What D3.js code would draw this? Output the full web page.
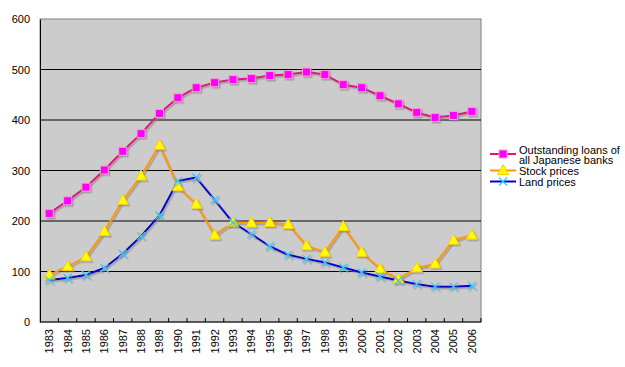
<!DOCTYPE html>
<html>
<head>
<meta charset="utf-8">
<script src="https://cdn.jsdelivr.net/npm/d3@7"></script>
<style>
body { margin: 0; background: #fff; }
text { font-family: "Liberation Sans", Arial, sans-serif; font-size: 11px; fill: #000; }
</style>
</head>
<body>
<svg id="chart" width="625" height="367"></svg>
<script>
var years = ['1983','1984','1985','1986','1987','1988','1989','1990','1991','1992','1993','1994',
	'1995','1996','1997','1998','1999','2000','2001','2002','2003','2004','2005','2006'];
var loans = [215,240,267,301,338,373,413,444,464,474,480,482,488,490,495,490,470,464,448,432,415,405,409,417];
var stocks = [93,110,129,179,241,289,350,268,233,172,197,196,197,193,151,138,189,138,105,85,107,115,162,172];
var land = [83,87,93,107,135,170,211,279,286,242,197,174,150,133,125,118,108,98,90,82,75,70,70,72];
var yTicks = [0,100,200,300,400,500,600];
var legendNames = [['Outstanding loans of','all Japanese banks'],['Stock prices'],['Land prices']];

var svg = d3.select('#chart');
var pLeft = 40, pRight = 481, pTop = 19, pBottom = 322;

var x = d3.scaleBand().domain(years).range([pLeft, pRight]);
var y = d3.scaleLinear().domain([0, 600]).range([pBottom, pTop]);

// shadow filter for lines and markers
var defs = svg.append('defs');
var f = defs.append('filter').attr('id', 'shadow').attr('x', '-20%').attr('y', '-20%').attr('width', '150%').attr('height', '150%');
f.append('feDropShadow').attr('dx', 1.5).attr('dy', 1.5).attr('stdDeviation', 0.5)
	.attr('flood-color', '#808080').attr('flood-opacity', 0.6);

// plot background
svg.append('rect').attr('x', pLeft).attr('y', pTop).attr('width', pRight - pLeft).attr('height', pBottom - pTop)
	.attr('fill', '#cccccc').attr('stroke', '#808080').attr('stroke-width', 1);

// gridlines
svg.append('g').selectAll('line').data(yTicks.slice(1, 6)).enter().append('line')
	.attr('x1', pLeft).attr('x2', pRight)
	.attr('y1', function(d) {return y(d);}).attr('y2', function(d) {return y(d);})
	.attr('stroke', '#000').attr('stroke-width', 1);

// y axis
var yAxis = d3.axisLeft(y).tickValues(yTicks).tickSize(0).tickPadding(10);
var gy = svg.append('g').attr('transform', 'translate(' + pLeft + ',0)').call(yAxis);
gy.select('.domain').attr('stroke', '#000');
gy.selectAll('text').style('font-size', '11px').attr('font-family', null);

// x axis, ticks between categories pointing inward
var gx = svg.append('g').attr('transform', 'translate(0,' + pBottom + ')');
gx.append('line').attr('x1', pLeft).attr('x2', pRight).attr('y1', 0).attr('y2', 0).attr('stroke', '#000');
gx.selectAll('.tk').data(years).enter().append('line')
	.attr('x1', function(d) {return x(d) + x.bandwidth();}).attr('x2', function(d) {return x(d) + x.bandwidth();})
	.attr('y1', 0).attr('y2', -4).attr('stroke', '#000');
gx.selectAll('.lbl').data(years).enter().append('text')
	.attr('transform', function(d) {return 'translate(' + (x(d) + x.bandwidth() / 2 + 4) + ',' + 7 + ') rotate(-90)';})
	.attr('text-anchor', 'end')
	.text(function(d) {return d;});

var line = d3.line()
	.x(function(d, i) {return x(years[i]) + x.bandwidth() / 2;})
	.y(function(d) {return y(d);});

var series = [
	{data: loans, stroke: '#e0137f', marker: 'square', fill: '#ff00ff', edge: '#ff99cc'},
	{data: stocks, stroke: '#ff9900', marker: 'triangle', fill: '#ffff00', edge: '#ffcc00'},
	{data: land, stroke: '#0000cc', marker: 'x', fill: 'none', edge: '#33ccff'}
];

function drawMarker(g, type, s) {
	if (type == 'square') {
		g.append('rect').attr('x', -4).attr('y', -4).attr('width', 8).attr('height', 8)
			.attr('fill', s.fill).attr('stroke', s.edge).attr('stroke-width', 1);
	}
	else if (type == 'triangle') {
		g.append('path').attr('d', 'M0,-6L5.5,4L-5.5,4Z')
			.attr('fill', s.fill).attr('stroke', s.edge).attr('stroke-width', 1);
	}
	else {
		g.append('path').attr('d', 'M-4,-4L4,4M-4,4L4,-4')
			.attr('fill', 'none').attr('stroke', s.edge).attr('stroke-width', 1.3);
	}
}

series.forEach(function(s) {
	var g = svg.append('g').attr('filter', 'url(#shadow)');
	g.append('path').datum(s.data).attr('d', line)
		.attr('fill', 'none').attr('stroke', s.stroke).attr('stroke-width', 2)
		.attr('stroke-linejoin', 'round');
});
series.forEach(function(s) {
	var g = svg.append('g').attr('filter', 'url(#shadow)');
	g.selectAll('g').data(s.data).enter().append('g')
		.attr('transform', function(d, i) {return 'translate(' + (x(years[i]) + x.bandwidth() / 2) + ',' + y(d) + ')';})
		.each(function() {drawMarker(d3.select(this), s.marker, s);});
});

// legend
var legY = [154, 170.5, 181.5];
var legText = [154, 174.5, 186];
series.forEach(function(s, i) {
	var g = svg.append('g').attr('transform', 'translate(490,0)');
	g.append('line').attr('x1', 0).attr('x2', 26).attr('y1', legY[i]).attr('y2', legY[i])
		.attr('stroke', s.stroke).attr('stroke-width', 2);
	var m = g.append('g').attr('transform', 'translate(13,' + legY[i] + ')');
	drawMarker(m, s.marker, s);
	var t = g.append('text').attr('x', 29).attr('y', legText[i]);
	legendNames[i].forEach(function(n, j) {
		t.append('tspan').attr('x', 29).attr('dy', j == 0 ? 0 : 9.5).text(n);
	});
});
</script>
</body>
</html>
